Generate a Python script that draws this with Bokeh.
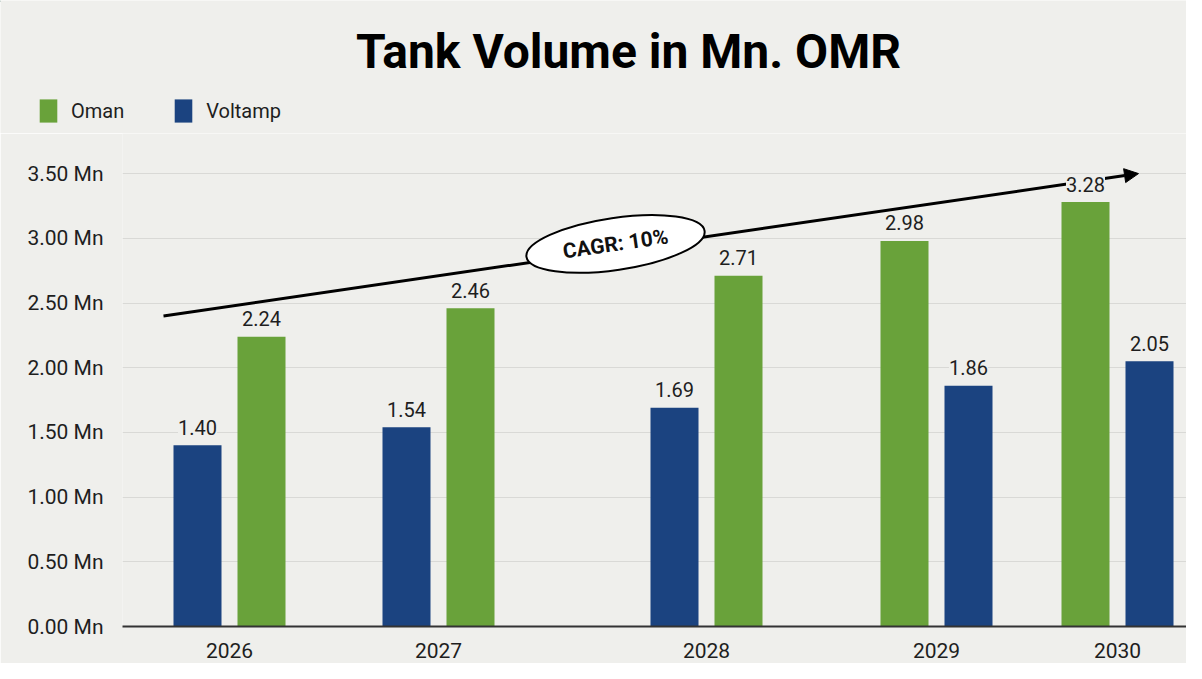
import math
from bokeh.plotting import figure
from bokeh.models import (Range1d, FixedTicker, Legend, LegendItem, Arrow,
                          NormalHead, ColumnDataSource)
from bokeh.core.properties import value
from bokeh.embed import file_html
from bokeh.resources import INLINE

# ---------------- data ----------------
years = ["2026", "2027", "2028", "2029", "2030"]
oman = [2.24, 2.46, 2.71, 2.98, 3.28]
voltamp = [1.40, 1.54, 1.69, 1.86, 2.05]
y_ticks = [0.0, 0.5, 1.0, 1.5, 2.0, 2.5, 3.0, 3.5]
y_tick_labels = ["0.00 Mn", "0.50 Mn", "1.00 Mn", "1.50 Mn",
                 "2.00 Mn", "2.50 Mn", "3.00 Mn", "3.50 Mn"]
series_names = ["Oman", "Voltamp"]
title_text = "Tank Volume in Mn. OMR"
cagr_label = "CAGR: 10%"
cagr_start = 2.40
cagr_end = 3.50

# ---------------- layout / style ----------------
W = 1186
HEADER_H = 133
MAIN_H = 530
BORDER_L, BORDER_R, BORDER_B = 122, 0, 37
frame_w = W - BORDER_L - BORDER_R
frame_h = MAIN_H - BORDER_B
px_per_unit = 129.4
y_max = frame_h / px_per_unit

group_centers = [107, 316, 584, 814, 995]
oman_side = [1, 1, 1, -1, -1]      # +1: Oman on the right of the pair
bar_offset = 32
bar_width = 48
cagr_x0, cagr_x1 = 41, 1016
ellipse_t = 0.4636
ellipse_lift = 6

BG = "#efefec"
GREEN = "#69a23a"
BLUE = "#1b4380"
TXT = "#1e1e1e"
FONT = "Roboto"

oman_x = [c + s * bar_offset for c, s in zip(group_centers, oman_side)]
volt_x = [c - s * bar_offset for c, s in zip(group_centers, oman_side)]

# ---------------- header (title + legend) ----------------
h = figure(width=W, height=HEADER_H, output_backend="svg", toolbar_location=None,
           x_range=Range1d(0, W), y_range=Range1d(HEADER_H, 0),
           x_axis_type=None, y_axis_type=None,
           min_border=0, min_border_left=0, min_border_right=0,
           min_border_top=0, min_border_bottom=0,
           background_fill_color=BG, border_fill_color=BG,
           outline_line_color=None)
h.grid.grid_line_color = None
h.text(x=[628], y=[51], text=[title_text], text_align="center",
       text_baseline="alphabetic", text_font=value(FONT), text_font_style="bold",
       text_font_size="48px", text_color="#000000")
# legend keys (placed outside the visible range, only their styles are used)
lg_o = h.vbar(x=[-1000], top=[1], width=1, fill_color=GREEN, line_color=None)
lg_v = h.vbar(x=[-1000], top=[1], width=1, fill_color=BLUE, line_color=None)
legend = Legend(items=[LegendItem(label=series_names[0], renderers=[lg_o]),
                       LegendItem(label=series_names[1], renderers=[lg_v])],
                location=(37, 8), orientation="horizontal",
                glyph_width=22, glyph_height=29, label_standoff=12, spacing=48,
                padding=0, margin=0, border_line_color=None,
                background_fill_alpha=0, label_text_font=FONT,
                label_text_font_size="20px", label_text_color=TXT)
h.add_layout(legend)

# ---------------- main chart ----------------
p = figure(width=W, height=MAIN_H, output_backend="svg", toolbar_location=None,
           x_range=Range1d(0, frame_w), y_range=Range1d(0, y_max),
           min_border_left=BORDER_L, min_border_right=BORDER_R,
           min_border_top=0, min_border_bottom=BORDER_B,
           background_fill_color=BG, border_fill_color=BG,
           outline_line_color=None)

src_o = ColumnDataSource(dict(x=oman_x, top=oman, lab=[f"{v:.2f}" for v in oman]))
src_v = ColumnDataSource(dict(x=volt_x, top=voltamp, lab=[f"{v:.2f}" for v in voltamp]))

p.vbar(x="x", top="top", width=bar_width, bottom=0, source=src_o,
       fill_color=GREEN, line_color=None)
p.vbar(x="x", top="top", width=bar_width, bottom=0, source=src_v,
       fill_color=BLUE, line_color=None)

for src in (src_o, src_v):
    p.text(x="x", y="top", text="lab", source=src, text_align="center",
           text_baseline="alphabetic", y_offset=-18, text_font=value(FONT),
           text_font_size="20px", text_color=TXT,
           background_fill_color=BG, level="overlay")

# CAGR arrow
p.add_layout(Arrow(end=NormalHead(size=14, fill_color="black", line_color="black"),
                   x_start=cagr_x0, y_start=cagr_start, x_end=cagr_x1, y_end=cagr_end,
                   line_width=3, line_color="black"))
ex = cagr_x0 + ellipse_t * (cagr_x1 - cagr_x0)
ey = cagr_start + ellipse_t * (cagr_end - cagr_start) + ellipse_lift / px_per_unit
ang = math.atan2((cagr_end - cagr_start) * px_per_unit, cagr_x1 - cagr_x0)
p.ellipse(x=[ex], y=[ey], width=[180], height=[52], width_units="screen",
          height_units="screen", angle=ang, fill_color="white",
          line_color="black", line_width=2, level="overlay")
p.text(x=[ex], y=[ey], text=[cagr_label], angle=ang, text_align="center",
       text_baseline="middle", text_font=value(FONT), text_font_style="bold",
       text_font_size="21px", text_color="#111111", level="overlay")

# axes
p.xaxis.ticker = FixedTicker(ticks=group_centers)
p.xaxis.major_label_overrides = {c: y for c, y in zip(group_centers, years)}
p.xaxis.axis_line_color = "#333333"
p.xaxis.axis_line_width = 2
p.xaxis.major_tick_line_color = None
p.xaxis.minor_tick_line_color = None
p.xaxis.major_label_text_font = FONT
p.xaxis.major_label_text_font_size = "21px"
p.xaxis.major_label_text_color = TXT
p.xaxis.major_label_standoff = 10

p.yaxis.ticker = FixedTicker(ticks=y_ticks)
p.yaxis.major_label_overrides = {t: l for t, l in zip(y_ticks, y_tick_labels)}
p.yaxis.axis_line_color = None
p.yaxis.major_tick_line_color = None
p.yaxis.minor_tick_line_color = None
p.yaxis.major_label_text_font = FONT
p.yaxis.major_label_text_font_size = "21px"
p.yaxis.major_label_text_color = TXT
p.yaxis.major_label_standoff = 13

p.xgrid.grid_line_color = None
p.ygrid.grid_line_color = "#d9d9d6"
p.ygrid.grid_line_width = 1

open("out.html", "w").write(file_html([h, p], INLINE))
